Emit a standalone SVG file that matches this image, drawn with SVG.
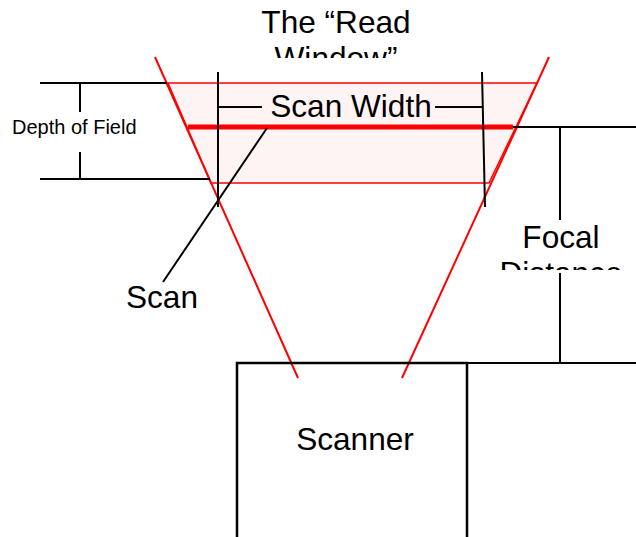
<svg xmlns="http://www.w3.org/2000/svg" width="636" height="537" viewBox="0 0 636 537">
<style>
.t{font-family:"Liberation Sans",Arial,sans-serif;font-size:31.6px;fill:#000}
.s{font-family:"Liberation Sans",Arial,sans-serif;font-size:20px;fill:#000}
.k{stroke:#000;stroke-width:2;fill:none}
.r{stroke:#f00;stroke-width:2;fill:none}
</style>
<defs>
<clipPath id="clipTitle"><rect x="200" y="0" width="280" height="58"/></clipPath>
<clipPath id="clipFocal"><rect x="480" y="215" width="156" height="55"/></clipPath>
</defs>
<rect width="636" height="537" fill="#fff"/>
<g id="read-window">
<polygon points="168,83 537,83 489,183 211,183" fill="#fff4f4" stroke="#f00" stroke-width="1.5"/>
</g>
<g id="beam">
<line class="r" x1="155" y1="57" x2="298" y2="378"/>
<line class="r" x1="549" y1="57" x2="402" y2="378"/>
</g>
<g id="scan-line">
<line x1="188" y1="127" x2="513" y2="127" stroke="#f00" stroke-width="5"/>
</g>
<g id="connectors">
<line class="k" x1="40" y1="83" x2="167" y2="83"/>
<line class="k" x1="40" y1="179" x2="210" y2="179"/>
<line class="k" x1="80" y1="83" x2="80" y2="112"/>
<line class="k" x1="80" y1="152" x2="80" y2="179"/>
<line class="k" x1="218" y1="72" x2="218" y2="207"/>
<line class="k" x1="482" y1="72" x2="485" y2="207"/>
<line class="k" x1="218" y1="107" x2="262" y2="107"/>
<line class="k" x1="435" y1="107" x2="482" y2="107"/>
<line class="k" x1="267" y1="128" x2="163" y2="282"/>
<line class="k" x1="513" y1="127" x2="636" y2="127"/>
<line class="k" x1="560" y1="127" x2="560" y2="220"/>
<line class="k" x1="560" y1="273" x2="560" y2="363"/>
<line class="k" x1="467" y1="363" x2="636" y2="363"/>
</g>
<g id="title">
<text class="t" text-anchor="middle" clip-path="url(#clipTitle)"><tspan x="336" y="33">The “Read</tspan><tspan x="336" y="69">Window”</tspan></text>
</g>
<g id="depth-of-field">
<text class="s" x="12" y="134">Depth of Field</text>
</g>
<g id="scan-width">
<text class="t" x="351" y="117" text-anchor="middle">Scan Width</text>
</g>
<g id="scan">
<text class="t" x="162" y="308" text-anchor="middle">Scan</text>
</g>
<g id="focal-distance">
<text class="t" text-anchor="middle" clip-path="url(#clipFocal)"><tspan x="561" y="248">Focal</tspan><tspan x="561" y="284">Distance</tspan></text>
</g>
<g id="scanner">
<polyline points="237,540 237,363 467,363 467,540" stroke="#000" stroke-width="2.5" fill="none"/>
<text class="t" x="355" y="450" text-anchor="middle">Scanner</text>
</g>
</svg>
